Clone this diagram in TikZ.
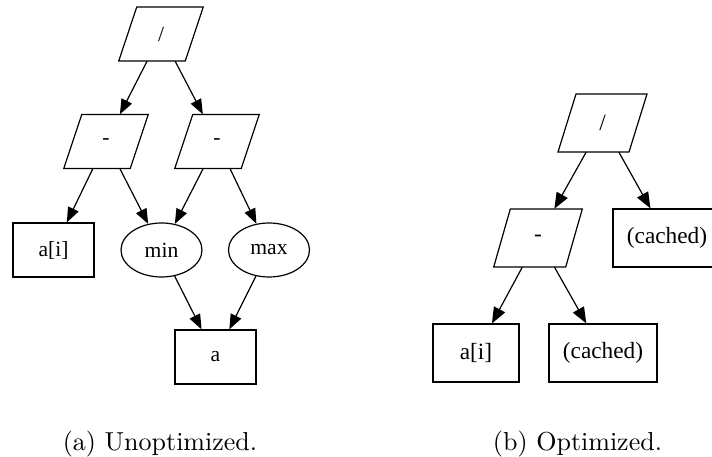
\documentclass[tikz,border=0pt]{standalone}
\usepackage{fontspec}
\newfontfamily\gvfont{Liberation Serif}
\newfontfamily\capfont{lmroman10-regular}[Extension=.otf]
\usetikzlibrary{arrows.meta,shapes.geometric}
\newcommand\paragram[4]{%
  \draw[line width=1.2bp] ([shift={(-#2-#3,#4)}]#1.center) -- ([shift={(#2-#3,#4)}]#1.center)
    -- ([shift={(#2+#3,-#4)}]#1.center) -- ([shift={(-#2+#3,-#4)}]#1.center) -- cycle;}
\begin{document}
\begin{tikzpicture}[x=1bp,y=-1bp,
  fA/.style={font=\gvfont\fontsize{21.6bp}{26bp}\selectfont},
  fB/.style={font=\gvfont\fontsize{23.3bp}{28bp}\selectfont},
  boxA/.style={fA, draw, line width=1.2bp, rectangle, inner sep=0pt, minimum width=81bp, minimum height=54bp},
  ellA/.style={fA, draw, line width=1.2bp, ellipse, inner sep=0pt, minimum width=81bp, minimum height=54bp},
  parA/.style={fA, rectangle, inner sep=0pt, minimum width=66bp, minimum height=54bp},
  boxB/.style={fB, draw, line width=1.2bp, rectangle, inner sep=0pt, minimum height=58bp},
  parB/.style={fB, rectangle, inner sep=0pt, minimum width=71bp, minimum height=58bp},
  edgeA/.style={-{Triangle[length=15bp,width=11.5bp]}, line width=1.2bp},
  edgeB/.style={-{Triangle[length=16bp,width=12.5bp]}, line width=1.2bp},
  captext/.style={anchor=base, inner sep=0pt, font=\capfont\fontsize{26bp}{30bp}\selectfont}
]
\useasboundingbox (0,0) rectangle (712,457);
\clip (0,0) rectangle (712,457);

% (a) unoptimized
\node[parA] (div) at (161,34) {/};
\node[parA] (subL) at (106,141.5) {-};
\node[parA] (subR) at (217,141.5) {-};
\node[boxA] (ai) at (53.5,250) {a[i]};
\node[ellA] (min) at (161.5,250) {min};
\node[ellA] (max) at (269,250) {max};
\node[boxA] (a) at (215.5,357) {a};
\paragram{div}{33.25}{9}{27}
\paragram{subL}{33.25}{9}{27}
\paragram{subR}{33.25}{9}{27}
\draw[edgeA] (div) -- (subL);
\draw[edgeA] (div) -- (subR);
\draw[edgeA] (subL) -- (ai);
\draw[edgeA] (subL) -- (min);
\draw[edgeA] (subR) -- (min);
\draw[edgeA] (subR) -- (max);
\draw[edgeA] (min) -- (a);
\draw[edgeA] (max) -- (a);

% (b) optimized
\node[parB] (divB) at (602.5,123) {/};
\node[parB] (subB) at (538,238) {-};
\node[boxB, minimum width=108bp] (cacheR) at (667,238) {(cached)};
\node[boxB, minimum width=86bp] (aiB) at (476,353) {a[i]};
\node[boxB, minimum width=108bp] (cacheB) at (603,353) {(cached)};
\paragram{divB}{35.5}{9}{29}
\paragram{subB}{36}{8.3}{29}
\draw[edgeB] (divB) -- (subB);
\draw[edgeB] (divB) -- (cacheR);
\draw[edgeB] (subB) -- (aiB);
\draw[edgeB] (subB) -- (cacheB);

% captions
\node[captext] (capA) at (160,450) {(a) Unoptimized.};
\node[captext] (capB) at (577.5,450) {(b) Optimized.};
\end{tikzpicture}
\end{document}
